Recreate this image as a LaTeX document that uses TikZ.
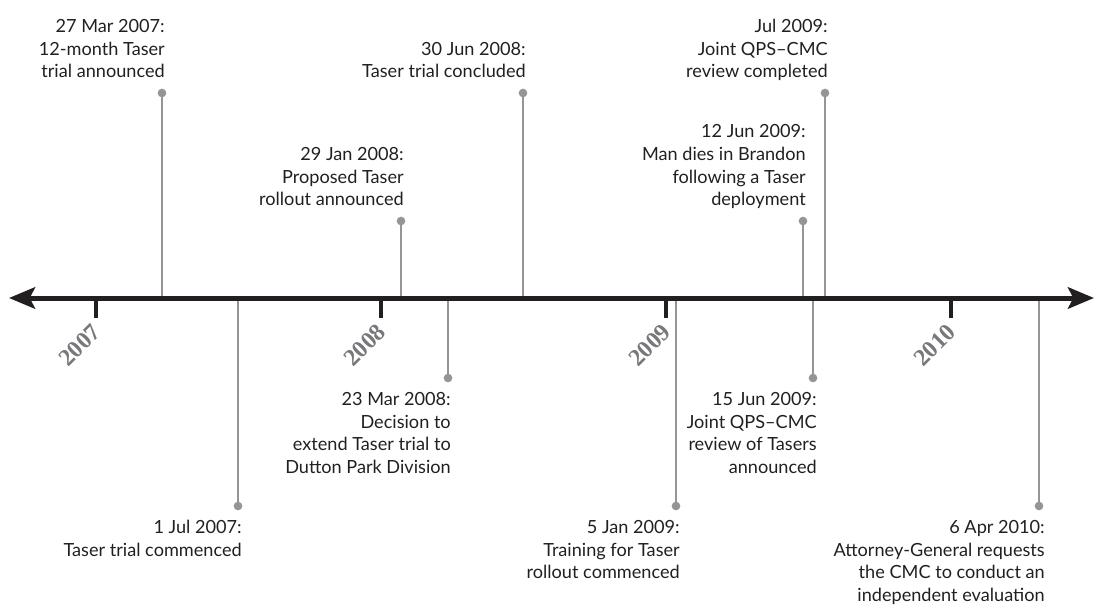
\documentclass[tikz,border=0pt]{standalone}
\usepackage{fontspec}
\setmainfont{Lato}
\newfontfamily\yearfont{Liberation Serif}
\usetikzlibrary{arrows.meta}
\definecolor{ink}{HTML}{231F20}
\definecolor{stemgray}{HTML}{939598}
\definecolor{yeargray}{HTML}{77787B}

\begin{document}
\begin{tikzpicture}[x=0.75pt,y=-0.75pt,
evt/.style={%
align=right,
inner sep=0pt,
text=ink,
font=\fontsize{13.6}{17}\selectfont,
execute at begin node=\strut,
execute at end node=\strut
},
up/.style={evt,anchor=south east},
down/.style={evt,anchor=north east},
dot/.style={circle,fill=stemgray,inner sep=0pt,minimum size=6.5pt},
stem/.style={draw=stemgray,line width=1.3pt},
tick/.style={draw=ink,line width=3pt},
yr/.style={%
rotate=45,
anchor=east,
inner sep=0pt,
text=yeargray,
font=\yearfont\bfseries\fontsize{18}{18}\selectfont
}
]
\useasboundingbox (0,0) rectangle (1094,606);
%% Year ticks
\coordinate (t2007) at (96,298);
\coordinate (b2007) at (96,318);
\coordinate (t2008) at (381,298);
\coordinate (b2008) at (381,318);
\coordinate (t2009) at (666,298);
\coordinate (b2009) at (666,318);
\coordinate (t2010) at (951,298);
\coordinate (b2010) at (951,318);
\draw[tick](t2007)--(b2007);
\draw[tick](t2008)--(b2008);
\draw[tick](t2009)--(b2009);
\draw[tick](t2010)--(b2010);
\node[yr]at(97,328)(y2007){2007};
\node[yr]at(382,328)(y2008){2008};
\node[yr]at(667,328)(y2009){2009};
\node[yr]at(952,328)(y2010){2010};
%% Events above the line
\node[dot]at(162,93)(d1){};
\coordinate (a1) at (162,298);
\draw[stem](d1.center)--(a1);
\node[up]at(165,85)(e1){27 Mar 2007:\\12-month Taser\\trial announced};
\node[dot]at(401,221)(d3){};
\coordinate (a3) at (401,298);
\draw[stem](d3.center)--(a3);
\node[up]at(404,213)(e3){29 Jan 2008:\\Proposed Taser\\rollout announced};
\node[dot]at(523,93)(d5){};
\coordinate (a5) at (523,298);
\draw[stem](d5.center)--(a5);
\node[up]at(526,85)(e5){30 Jun 2008:\\Taser trial concluded};
\node[dot]at(803,221)(d7){};
\coordinate (a7) at (803,298);
\draw[stem](d7.center)--(a7);
\node[up]at(806,213)(e7){12 Jun 2009:\\Man dies in Brandon\\following a Taser\\deployment};
\node[dot]at(825,93)(d9){};
\coordinate (a9) at (825,298);
\draw[stem](d9.center)--(a9);
\node[up]at(828,85)(e9){Jul 2009:\\Joint QPS–CMC\\review completed};
%% Events below the line
\node[dot]at(238,506)(d2){};
\coordinate (a2) at (238,298);
\draw[stem](a2)--(d2.center);
\node[down]at(242,520)(e2){1 Jul 2007:\\Taser trial commenced};
\node[dot]at(448,378)(d4){};
\coordinate (a4) at (448,298);
\draw[stem](a4)--(d4.center);
\node[down]at(451,392)(e4){23 Mar 2008:\\Decision to\\extend Taser trial to\\Dutton Park Division};
\node[dot]at(676,506)(d6){};
\coordinate (a6) at (676,298);
\draw[stem](a6)--(d6.center);
\node[down]at(680,520)(e6){5 Jan 2009:\\Training for Taser\\rollout commenced};
\node[dot]at(813,378)(d8){};
\coordinate (a8) at (813,298);
\draw[stem](a8)--(d8.center);
\node[down]at(817,392)(e8){15 Jun 2009:\\Joint QPS–CMC\\review of Tasers\\announced};
\node[dot]at(1039,506)(d10){};
\coordinate (a10) at (1039,298);
\draw[stem](a10)--(d10.center);
\node[down]at(1045,520)(e10){6 Apr 2010:\\Attorney-General requests\\the CMC to conduct an\\independent evaluation};
%% Time axis
\coordinate (L) at (9,298);
\coordinate (R) at (1094,298);
\draw[ink,line width=3.75pt,{Stealth[length=19.5pt,width=16pt,inset=4pt]}-{Stealth[length=19.5pt,width=16pt,inset=4pt]}](L)--(R);
\end{tikzpicture}
\end{document}
